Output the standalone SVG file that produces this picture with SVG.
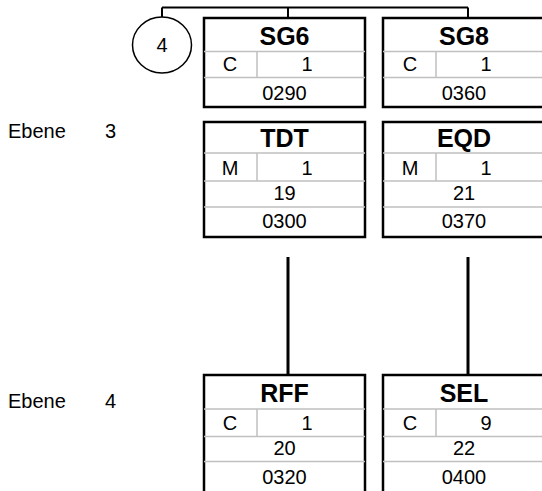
<svg xmlns="http://www.w3.org/2000/svg" width="542" height="491" viewBox="0 0 542 491">
<style>
text{font-family:"Liberation Sans",Arial,sans-serif;fill:#000}
.t{font-size:25px;font-weight:bold;text-anchor:middle}
.b{font-size:20px;text-anchor:middle}
.l{font-size:20px}
.box{fill:#fff;stroke:#000;stroke-width:2.5}
.div{stroke:#c0c0c0;stroke-width:1.5;fill:none}
.con{stroke:#000;fill:none}
</style>
<g id="connectors">
<path class="con" stroke-width="2" d="M162,7.5H468M162,7.5V17M288,7.5V17M468,7.5V17"/>
<path class="con" stroke-width="3" d="M288,257V375M468,257V375"/>
</g>
<g id="labels">
<text class="l" x="8" y="138">Ebene</text>
<text class="l" x="105" y="138">3</text>
<text class="l" x="8" y="408">Ebene</text>
<text class="l" x="105" y="408">4</text>
</g>
<g id="circle4">
<ellipse cx="162" cy="45" rx="29.5" ry="28" fill="#fff" stroke="#000" stroke-width="1.5"/>
<text class="b" x="162" y="52">4</text>
</g>
<g id="SG6">
<rect class="box" x="204" y="18" width="161" height="89"/>
<path class="div" d="M204,51.5H365M204,77.5H365M257,51.5V77.5"/>
<text class="t" x="284.5" y="45">SG6</text>
<text class="b" x="230" y="71">C</text>
<text class="b" x="307" y="71">1</text>
<text class="b" x="284.5" y="100">0290</text>
</g>
<g id="SG8">
<rect class="box" x="383" y="18" width="162" height="89"/>
<path class="div" d="M383,51.5H545M383,77.5H545M436,51.5V77.5"/>
<text class="t" x="464" y="45">SG8</text>
<text class="b" x="410" y="71">C</text>
<text class="b" x="486" y="71">1</text>
<text class="b" x="464" y="100">0360</text>
</g>
<g id="TDT">
<rect class="box" x="204" y="122" width="161" height="115"/>
<path class="div" d="M204,153H365M204,181H365M204,207H365M257,153V181"/>
<text class="t" x="284.5" y="147">TDT</text>
<text class="b" x="230" y="175">M</text>
<text class="b" x="307" y="175">1</text>
<text class="b" x="284.5" y="200">19</text>
<text class="b" x="284.5" y="228">0300</text>
</g>
<g id="EQD">
<rect class="box" x="383" y="122" width="162" height="115"/>
<path class="div" d="M383,153H545M383,181H545M383,207H545M436,153V181"/>
<text class="t" x="464" y="147">EQD</text>
<text class="b" x="410" y="175">M</text>
<text class="b" x="486" y="175">1</text>
<text class="b" x="464" y="200">21</text>
<text class="b" x="464" y="228">0370</text>
</g>
<g id="RFF">
<rect class="box" x="204" y="375" width="161" height="120"/>
<path class="div" d="M204,409H365M204,436.5H365M204,461.5H365M257,409V436.5"/>
<text class="t" x="284.5" y="402">RFF</text>
<text class="b" x="230" y="430">C</text>
<text class="b" x="307" y="430">1</text>
<text class="b" x="284.5" y="455">20</text>
<text class="b" x="284.5" y="484">0320</text>
</g>
<g id="SEL">
<rect class="box" x="383" y="375" width="162" height="120"/>
<path class="div" d="M383,409H545M383,436.5H545M383,461.5H545M436,409V436.5"/>
<text class="t" x="464" y="402">SEL</text>
<text class="b" x="410" y="430">C</text>
<text class="b" x="486" y="430">9</text>
<text class="b" x="464" y="455">22</text>
<text class="b" x="464" y="484">0400</text>
</g>
</svg>
